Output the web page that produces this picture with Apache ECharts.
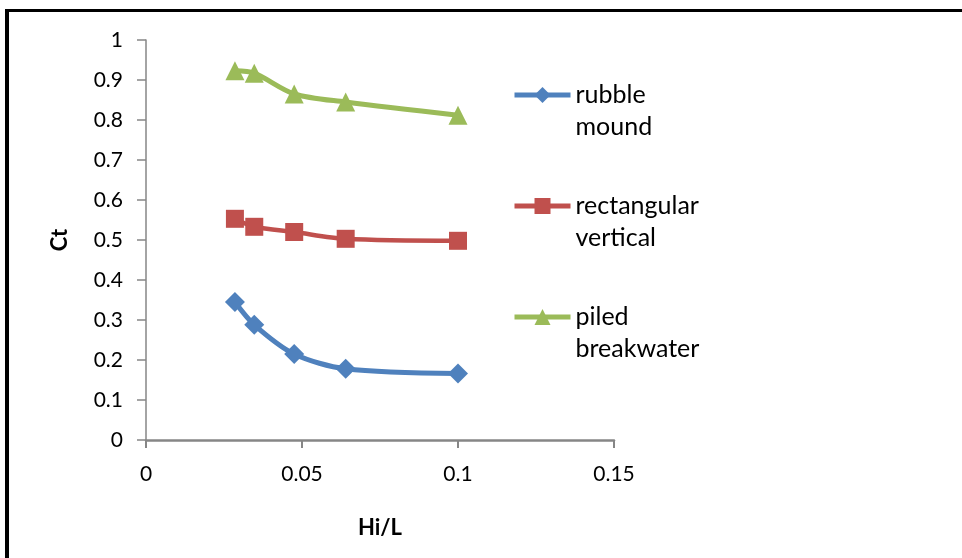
<!DOCTYPE html>
<html>
<head>
<meta charset="utf-8">
<script src="https://cdn.jsdelivr.net/npm/echarts@6/dist/echarts.min.js"></script>
<style>
html,body{margin:0;padding:0;background:#fff;}
#c{width:962px;height:558px;}
</style>
</head>
<body>
<div id="c"></div>
<script>
const hiL = [0.0285, 0.0347, 0.0475, 0.064, 0.1];
const rubbleMound = [0.345, 0.288, 0.215, 0.178, 0.166];
const rectangularVertical = [0.553, 0.533, 0.52, 0.503, 0.498];
const piledBreakwater = [0.923, 0.917, 0.865, 0.845, 0.812];
const seriesNames = ['rubble mound', 'rectangular vertical', 'piled breakwater'];
const legendLines = {
  'rubble mound': ['rubble', 'mound'],
  'rectangular vertical': ['rectangular', 'vertical'],
  'piled breakwater': ['piled', 'breakwater']
};
const xTicks = [0, 0.05, 0.1, 0.15];

function pairs(ys){ return hiL.map((x,i)=>[x, ys[i]]); }

const font = 'Lato, "Open Sans", sans-serif';
const chart = echarts.init(document.getElementById('c'), null, {renderer:'canvas'});
chart.setOption({
  animation:false,
  backgroundColor:'#fff',
  graphic:[
    {type:'rect', shape:{x:5,y:9,width:962,height:3}, style:{fill:'#000'}},
    {type:'rect', shape:{x:5,y:9,width:4,height:560}, style:{fill:'#000'}}
  ],
  grid:{left:146, right:348, top:40, bottom:118, containLabel:false},
  legend:{
    orient:'vertical',
    left:507,
    top:42,
    itemWidth:56,
    itemHeight:20,
    itemGap:15,
    lineStyle:{width:5},
    textStyle:{fontFamily:font, fontSize:25, color:'#000', lineHeight:32},
    formatter:function(n){ return '\u00a0\n' + legendLines[n].join('\n'); },
    data:seriesNames
  },
  xAxis:{
    type:'value', min:0, max:0.15, interval:0.05,
    name:'Hi/L', nameLocation:'middle', nameGap:77,
    nameTextStyle:{fontFamily:font, fontSize:22, fontWeight:'bold', color:'#000'},
    axisLine:{show:true, lineStyle:{color:'#868686', width:2.5}},
    axisTick:{show:true, length:8, lineStyle:{color:'#868686', width:2}},
    axisLabel:{fontFamily:font, fontSize:21, color:'#000', margin:24,
      formatter:function(v){ return String(+v.toFixed(2)); }},
    splitLine:{show:false}
  },
  yAxis:{
    type:'value', min:0, max:1, interval:0.1,
    name:'Ct', nameLocation:'middle', nameGap:75, nameRotate:90,
    nameTextStyle:{fontFamily:font, fontSize:22, fontWeight:'bold', color:'#000'},
    axisLine:{show:true, lineStyle:{color:'#868686', width:1.5}},
    axisTick:{show:true, length:9, lineStyle:{color:'#868686', width:1.5}},
    axisLabel:{fontFamily:font, fontSize:21, color:'#000', margin:23,
      formatter:function(v){ return String(+v.toFixed(1)); }},
    splitLine:{show:false}
  },
  series:[
    {name:seriesNames[0], type:'line', data:pairs(rubbleMound), smooth:0.3,
     symbol:'diamond', symbolSize:20, itemStyle:{color:'#4F81BD'},
     lineStyle:{color:'#4F81BD', width:5}},
    {name:seriesNames[1], type:'line', data:pairs(rectangularVertical), smooth:0.3,
     symbol:'rect', symbolSize:18, itemStyle:{color:'#C0504D'},
     lineStyle:{color:'#C0504D', width:4.5}},
    {name:seriesNames[2], type:'line', data:pairs(piledBreakwater), smooth:0.3,
     symbol:'triangle', symbolSize:19, itemStyle:{color:'#9BBB59'},
     lineStyle:{color:'#9BBB59', width:5}}
  ]
});
</script>
</body>
</html>
